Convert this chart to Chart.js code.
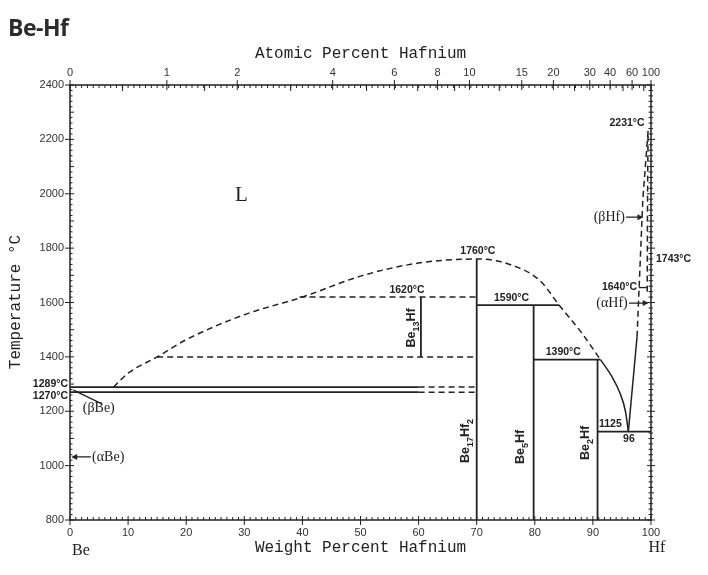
<!DOCTYPE html>
<html>
<head>
<meta charset="utf-8">
<script src="https://cdn.jsdelivr.net/npm/chart.js@4.4.1/dist/chart.umd.min.js"></script>
<style>
    body { margin: 0; background: #fff; }
    #wrap { position: relative; width: 708px; height: 575px; }
    #wrap canvas { position: absolute; left: 0; top: 0; }
    #title { position: absolute; left: 8px; top: 11px; font: bold 23px "Open Sans", sans-serif; color: #2b2b2b; letter-spacing: -0.5px; }
</style>
</head>
<body>
<div id="wrap">
    <canvas id="chart" width="708" height="575"></canvas>
    <div id="title">Be-Hf</div>
</div>
<script>
// Be-Hf phase diagram (wt.% Hf, °C)

// liquidus côté Be (pointillé) jusqu'au point 1390°C
const liqUpperX = [7.5, 10, 15, 20, 30, 40, 50, 60, 70, 75.7, 80.9, 84.2, 88, 91.3];
const liqUpperY = [1289, 1340, 1400, 1463, 1555, 1620, 1697, 1745, 1760, 1740, 1680, 1590, 1490, 1390];

// liquidus Be2Hf -> eutectique (trait plein)
const liqEutX = [91.3, 93.2, 94.6, 95.6, 96.1];
const liqEutY = [1390, 1330, 1270, 1200, 1125];

// liquidus côté Hf
const hfLiqSolidX = [96.1, 97.6];
const hfLiqSolidY = [1125, 1474];
const hfLiqDashX = [97.6, 98.6, 99.5];
const hfLiqDashY = [1474, 1982, 2231];
const hfSolidusX = [99.35, 99.4, 99.5];
const hfSolidusY = [1640, 1982, 2231];

// isothermes
const solidTieT = [1289, 1270, 1590, 1390, 1125];
const solidTieFrom = [0, 0, 70, 79.8, 90.8];
const solidTieTo = [60, 60, 84.2, 91.3, 100];
const dashedTieT = [1289, 1270, 1620, 1400];
const dashedTieFrom = [60, 60, 39.5, 15];
const dashedTieTo = [70, 70, 70, 70];

// composés (lignes verticales)
const compoundX = [60.4, 70, 79.8, 90.8];
const compoundTop = [1620, 1760, 1590, 1390];
const compoundBottom = [1400, 800, 800, 800];

// graduations
const atomicTicks = [0, 1, 2, 4, 6, 8, 10, 15, 20, 30, 40, 60, 100];
const weightTicks = [0, 10, 20, 30, 40, 50, 60, 70, 80, 90, 100];
const tempTicks = [800, 1000, 1200, 1400, 1600, 1800, 2000, 2200, 2400];

const INK = '#222';

// conversion at.% -> wt.% (Be 9.012, Hf 178.49)
function atToWt(a) {
    const hf = a * 178.49, be = (100 - a) * 9.012;
    return 100 * hf / (hf + be);
}

function line(xs, ys, dashed, width) {
    return {
        data: xs.map((x, i) => ({ x: x, y: ys[i] })),
        borderColor: INK,
        borderWidth: width || 1.6,
        borderDash: dashed ? [6, 4] : [],
        pointRadius: 0,
        showLine: true,
        fill: false,
        tension: 0,
        xAxisID: 'x',
        yAxisID: 'y'
    };
}

const datasets = [];
const curve = line(liqUpperX, liqUpperY, true, 1.5);
curve.cubicInterpolationMode = 'monotone';
datasets.push(curve);
const eut = line(liqEutX, liqEutY, false, 1.5);
eut.cubicInterpolationMode = 'monotone';
datasets.push(eut);
datasets.push(line(hfLiqSolidX, hfLiqSolidY, false, 1.5));
datasets.push(line(hfLiqDashX, hfLiqDashY, true, 1.5));
datasets.push(line(hfSolidusX, hfSolidusY, true, 1.5));
solidTieT.forEach((t, i) => datasets.push(line([solidTieFrom[i], solidTieTo[i]], [t, t], false, 1.8)));
dashedTieT.forEach((t, i) => datasets.push(line([dashedTieFrom[i], dashedTieTo[i]], [t, t], true, 1.5)));
compoundX.forEach((x, i) => datasets.push(line([x, x], [compoundBottom[i], compoundTop[i]], false, 1.8)));

// textes posés sur le diagramme
const tempLabels = [
    { text: '1760°C', x: 70.2, y: 1760, dy: -8 },
    { text: '1620°C', x: 58, y: 1620, dy: -7 },
    { text: '1590°C', x: 76, y: 1590, dy: -7 },
    { text: '1390°C', x: 84.9, y: 1390, dy: -7 },
    { text: '1125', x: 93, y: 1125, dy: -8 },
    { text: '96', x: 96.2, y: 1125, dy: 7 }
];

function drawRich(ctx, parts, x, y, size) {
    // texte avec indices, centré sur (x, y)
    const big = 'bold ' + size + 'px "Liberation Sans", sans-serif';
    const small = 'bold ' + Math.round(size * 0.7) + 'px "Liberation Sans", sans-serif';
    let w = 0;
    parts.forEach(p => { ctx.font = p.sub ? small : big; w += ctx.measureText(p.t).width; });
    let cx = x - w / 2;
    ctx.textAlign = 'left';
    ctx.textBaseline = 'middle';
    parts.forEach(p => {
        ctx.font = p.sub ? small : big;
        ctx.fillText(p.t, cx, y + (p.sub ? size * 0.35 : 0));
        cx += ctx.measureText(p.t).width;
    });
}

function arrowHead(ctx, x, y, dir) {
    ctx.beginPath();
    ctx.moveTo(x, y);
    ctx.lineTo(x - dir * 6, y - 3);
    ctx.lineTo(x - dir * 6, y + 3);
    ctx.closePath();
    ctx.fill();
}

const decorations = {
    id: 'decorations',
    afterDraw(chart) {
        const ctx = chart.ctx;
        const a = chart.chartArea;
        const x = chart.scales.x, y = chart.scales.y;
        const px = v => x.getPixelForValue(v);
        const py = v => y.getPixelForValue(v);
        ctx.save();
        ctx.strokeStyle = INK;
        ctx.fillStyle = INK;

        // cadre
        ctx.lineWidth = 1.5;
        ctx.strokeRect(a.left, a.top, a.right - a.left, a.bottom - a.top);

        // graduations bas et haut (wt.%)
        ctx.lineWidth = 1;
        ctx.beginPath();
        for (let w = 0; w <= 100; w++) {
            const X = px(w);
            const major = w % 10 === 0;
            ctx.moveTo(X, a.bottom - (major ? 4 : 3));
            ctx.lineTo(X, a.bottom + (major ? 5 : 0));
            ctx.moveTo(X, a.top);
            ctx.lineTo(X, a.top + 3);
        }
        atomicTicks.forEach(t => {
            const X = px(atToWt(t));
            ctx.moveTo(X, a.top - 5);
            ctx.lineTo(X, a.top + 5);
        });
        [0.5, 1.5, 3, 5, 7, 9, 12.5, 25, 50, 80].forEach(t => {
            const X = px(atToWt(t));
            ctx.moveTo(X, a.top);
            ctx.lineTo(X, a.top + 6);
        });
        // graduations gauche et droite
        for (let t = 800; t <= 2400; t += 20) {
            const Y = py(t);
            const major = t % 200 === 0;
            const mid = t % 100 === 0;
            ctx.moveTo(a.left - (major ? 5 : 0), Y);
            ctx.lineTo(a.left + (major ? 4 : mid ? 4 : 2.5), Y);
            ctx.moveTo(a.right - (major ? 4 : 2.5), Y);
            ctx.lineTo(a.right + (major ? 4 : mid ? 3 : 2), Y);
        }
        ctx.stroke();

        // titres d'axes
        ctx.font = '16px "Liberation Mono", monospace';
        ctx.textAlign = 'center';
        ctx.textBaseline = 'middle';
        ctx.fillText('Atomic Percent Hafnium', (a.left + a.right) / 2, 54);
        ctx.fillText('Weight Percent Hafnium', (a.left + a.right) / 2, 548);
        ctx.save();
        ctx.translate(16, 302);
        ctx.rotate(-Math.PI / 2);
        ctx.fillText('Temperature °C', 0, 0);
        ctx.restore();

        ctx.font = '16px "Liberation Serif", serif';
        ctx.fillText('Be', px(0) + 11, 551);
        ctx.fillText('Hf', px(100) + 6, 548);
        ctx.font = '21px "Liberation Serif", serif';
        ctx.fillText('L', px(29.5), py(1993));

        // températures
        ctx.font = 'bold 10.5px "Liberation Sans", sans-serif';
        tempLabels.forEach(l => ctx.fillText(l.text, px(l.x), py(l.y) + l.dy));
        ctx.textAlign = 'right';
        ctx.fillText('2231°C', px(98.9), py(2260));
        ctx.fillText('1640°C', px(97.6), py(1655));
        ctx.fillText('1289°C', a.left - 2, py(1299));
        ctx.fillText('1270°C', a.left - 2, py(1257));
        ctx.textAlign = 'left';
        ctx.fillText('1743°C', a.right + 5, py(1758));

        // marqueur 1640
        ctx.lineWidth = 1.3;
        ctx.beginPath();
        ctx.moveTo(px(97.9), py(1655));
        ctx.lineTo(px(99.3), py(1655));
        ctx.stroke();

        // phases terminales
        ctx.font = '14px "Liberation Serif", serif';
        ctx.textAlign = 'right';
        ctx.fillText('(βHf)', px(95.5), py(1914));
        ctx.fillText('(αHf)', px(96), py(1598));
        ctx.beginPath();
        ctx.moveTo(px(95.7), py(1914)); ctx.lineTo(px(98.4), py(1914));
        ctx.moveTo(px(96.2), py(1598)); ctx.lineTo(px(99.2), py(1598));
        ctx.stroke();
        arrowHead(ctx, px(98.7), py(1914), 1);
        arrowHead(ctx, px(99.6), py(1598), 1);

        ctx.textAlign = 'left';
        ctx.fillText('(βBe)', px(2.2), py(1212));
        ctx.fillText('(αBe)', px(3.8), py(1032));
        ctx.beginPath();
        ctx.moveTo(px(5.5), py(1227)); ctx.lineTo(px(0.6), py(1278));
        ctx.moveTo(px(3.6), py(1032)); ctx.lineTo(px(1), py(1032));
        ctx.stroke();
        arrowHead(ctx, px(0.2), py(1032), -1);

        // composés (texte vertical)
        const compounds = [
            { parts: [{ t: 'Be' }, { t: '13', sub: true }, { t: 'Hf' }], x: 412, y: 328 },
            { parts: [{ t: 'Be' }, { t: '17', sub: true }, { t: 'Hf' }, { t: '2', sub: true }], x: 466, y: 441 },
            { parts: [{ t: 'Be' }, { t: '5', sub: true }, { t: 'Hf' }], x: 521, y: 447 },
            { parts: [{ t: 'Be' }, { t: '2', sub: true }, { t: 'Hf' }], x: 586, y: 443 }
        ];
        compounds.forEach(c => {
            ctx.save();
            ctx.translate(c.x, c.y);
            ctx.rotate(-Math.PI / 2);
            drawRich(ctx, c.parts, 0, 0, 12.5);
            ctx.restore();
        });

        ctx.restore();
    }
};

const tickFont = { family: '"Liberation Sans", sans-serif', size: 11 };
const noGrid = { display: false, drawTicks: false, tickLength: 0 };

new Chart(document.getElementById('chart'), {
    type: 'scatter',
    data: { datasets: datasets },
    options: {
        responsive: false,
        animation: false,
        devicePixelRatio: 1,
        layout: { padding: { left: 0, right: 57, top: 0, bottom: 0 } },
        plugins: { legend: { display: false }, tooltip: { enabled: false } },
        scales: {
            x: {
                type: 'linear', position: 'bottom', min: 0, max: 100,
                grid: noGrid, border: { display: false },
                afterBuildTicks: s => { s.ticks = weightTicks.map(v => ({ value: v })); },
                ticks: { font: tickFont, color: '#333', padding: 6, maxRotation: 0, autoSkip: false,
                    callback: v => String(v) },
                afterFit: s => { s.height = 55; }
            },
            xTop: {
                type: 'linear', position: 'top', min: 0, max: 100,
                grid: noGrid, border: { display: false },
                afterBuildTicks: s => { s.ticks = atomicTicks.map(v => ({ value: atToWt(v) })); },
                ticks: {
                    font: tickFont, color: '#333', padding: 5, maxRotation: 0, autoSkip: false,
                    callback: (v, i) => String(atomicTicks[i])
                },
                afterFit: s => { s.height = 85; }
            },
            y: {
                type: 'linear', position: 'left', min: 800, max: 2400,
                grid: noGrid, border: { display: false },
                afterBuildTicks: s => { s.ticks = tempTicks.map(v => ({ value: v })); },
                ticks: { font: tickFont, color: '#333', padding: 6, callback: v => String(v) },
                afterFit: s => { s.width = 70; }
            }
        }
    },
    plugins: [decorations]
});
</script>
</body>
</html>
